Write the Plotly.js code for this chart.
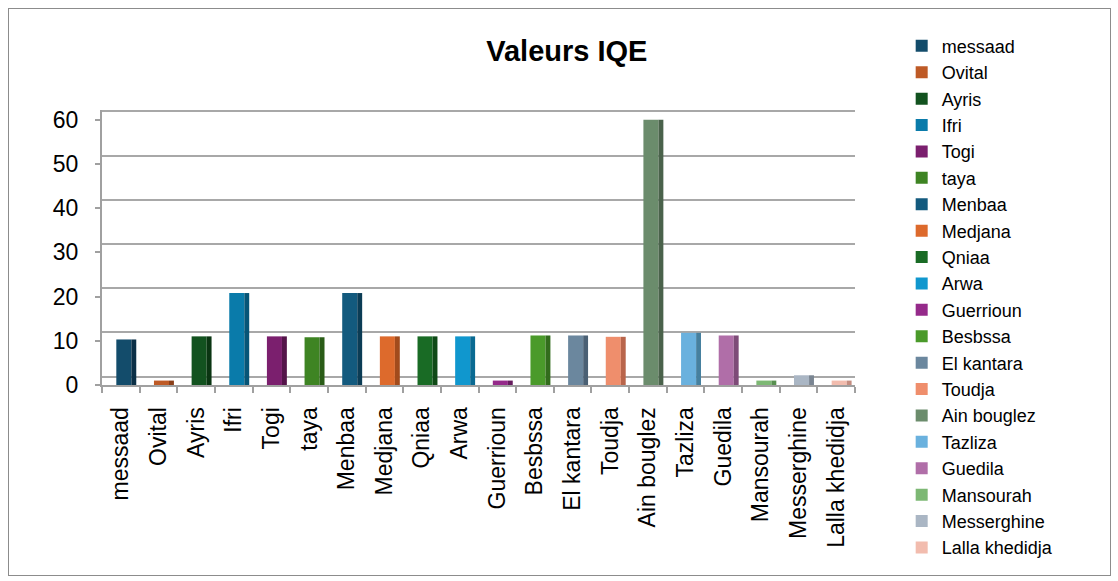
<!DOCTYPE html>
<html><head><meta charset="utf-8">
<script src="https://cdn.plot.ly/plotly-3.0.1.min.js"></script>
<style>
html,body{margin:0;padding:0;background:#fff;}
#chart{width:1118px;height:581px;}
#frame{position:absolute;left:8px;top:8px;width:1101px;height:566px;border:1.5px solid #8c8c8c;pointer-events:none;}
</style></head>
<body>
<div id="chart"></div>
<div id="frame"></div>
<script>
const categories = ["messaad","Ovital","Ayris","Ifri","Togi","taya","Menbaa","Medjana","Qniaa","Arwa","Guerrioun","Besbssa","El kantara","Toudja","Ain bouglez","Tazliza","Guedila","Mansourah","Messerghine","Lalla khedidja"];
const values = [10.3, 1, 11, 20.8, 11, 10.8, 20.8, 11, 11, 11, 1, 11.2, 11.2, 10.9, 60, 11.8, 11.2, 1, 2.2, 1];
const colors = ["#134C6B","#BE5A26","#12521F","#0A7BAA","#7B1F6E","#3E8423","#135A7E","#DD6A2C","#196B25","#1097CE","#952A8A","#4A9A2A","#6B879E","#EF8E6C","#6B8C6C","#6AB1DE","#B06EA8","#7DB874","#AAB6C4","#F2BCAE"];
const sideColors = ["#0B3047","#8A3E18","#0A3512","#065577","#541449","#2A5C17","#0B3C55","#A24B1C","#0F4A17","#0A6A92","#661C5E","#326C1C","#4A6074","#B9654B","#4A624B","#46809F","#7E4B78","#589050","#7A8592","#C48D80"];
const yTicks = [0, 10, 20, 30, 40, 50, 60];

const traces = [];
categories.forEach((c, i) => {
  traces.push({
    type: 'bar', x: [c], y: [values[i]], name: c,
    width: 0.4, offset: -0.12,
    marker: {color: colors[i]},
    hoverinfo: 'x+y'
  });
});
categories.forEach((c, i) => {
  traces.push({
    type: 'bar', x: [c], y: [values[i]], name: c + ' side',
    width: 0.13, offset: 0.28,
    marker: {color: sideColors[i]},
    showlegend: false, hoverinfo: 'skip'
  });
});
// empty trace that carries the back-wall gridline axis
traces.push({type: 'scatter', x: [], y: [], yaxis: 'y2', showlegend: false, hoverinfo: 'skip'});

const yTop = 62.2;
const wallShift = 1.9;
const layout = {
  width: 1118, height: 581,
  paper_bgcolor: '#ffffff', plot_bgcolor: 'rgba(0,0,0,0)',
  margin: {l: 102, r: 263, t: 109.5, b: 196},
  barmode: 'overlay',
  font: {family: 'Liberation Sans, Arial, sans-serif', color: '#000'},
  title: {text: '<b>Valeurs IQE</b>', font: {size: 29, color: '#000'},
          xref: 'container', x: 0.507, xanchor: 'center', yref: 'container', y: 0.913, yanchor: 'middle'},
  xaxis: {
    type: 'category', categoryorder: 'array', categoryarray: categories,
    tickangle: -90, tickfont: {size: 23}, ticks: 'outside', tickson: 'boundaries',
    ticklen: 6, tickcolor: '#a0a0a0', tickwidth: 2, ticklabelstandoff: 11,
    showline: true, linecolor: '#a0a0a0', linewidth: 2, showgrid: false,
    range: [-0.5, 19.5]
  },
  yaxis: {
    range: [0, yTop], tickvals: yTicks, tickfont: {size: 23},
    ticks: 'outside', ticklen: 5, tickcolor: '#a0a0a0', tickwidth: 2, ticklabelstandoff: 12,
    showline: true, linecolor: '#a0a0a0', linewidth: 2,
    showgrid: false, zeroline: false
  },
  yaxis2: {
    overlaying: 'y', side: 'left', range: [-wallShift, yTop - wallShift],
    tickvals: yTicks, showticklabels: false, ticks: '', showline: false,
    showgrid: true, gridcolor: '#a8a8a8', gridwidth: 2, zeroline: false
  },
  legend: {
    x: 1.062, xanchor: 'left', y: 1.2995, yanchor: 'top',
    font: {size: 18, color: '#000'}, bgcolor: 'rgba(0,0,0,0)',
    tracegroupgap: 0, itemwidth: 30, maxheight: 600
  },
  showlegend: true
};
Plotly.newPlot('chart', traces, layout, {displayModeBar: false, staticPlot: true});
</script>
</body></html>
